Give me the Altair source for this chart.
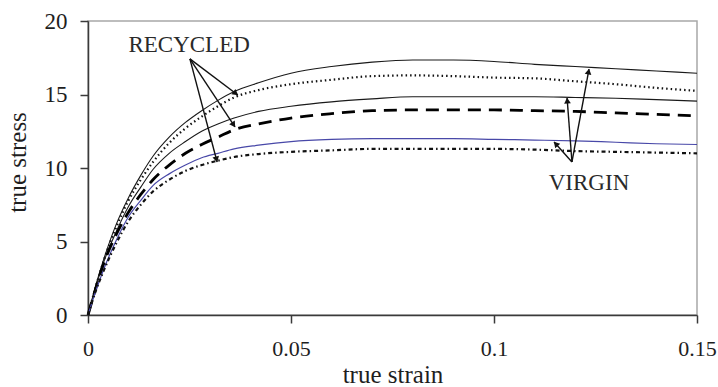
import math
import altair as alt
import pandas as pd

# ---------------- data ----------------
strain = [0, 0.002, 0.004, 0.007, 0.010, 0.013, 0.016, 0.020, 0.024, 0.028, 0.032,
          0.036, 0.042, 0.05, 0.06, 0.07, 0.08, 0.09, 0.10, 0.11, 0.12, 0.13, 0.14, 0.15]

virgin_top = [0, 2.1, 3.9, 6.2, 8.0, 9.5, 10.8, 12.1, 13.1, 13.9, 14.6, 15.2, 15.8, 16.45,
              16.9, 17.2, 17.35, 17.35, 17.25, 17.05, 16.9, 16.75, 16.6, 16.45]
recycled_top = [0, 2.0, 3.8, 6.0, 7.8, 9.2, 10.4, 11.7, 12.7, 13.5, 14.2, 14.8, 15.3, 15.7,
                16.0, 16.25, 16.3, 16.25, 16.15, 16.1, 15.9, 15.7, 15.45, 15.25]
virgin_mid = [0, 2.0, 3.7, 5.7, 7.4, 8.7, 9.9, 11.0, 11.8, 12.5, 13.0, 13.4, 13.85, 14.2,
              14.5, 14.7, 14.85, 14.85, 14.85, 14.85, 14.8, 14.75, 14.65, 14.55]
recycled_mid = [0, 1.9, 3.6, 5.5, 7.0, 8.2, 9.2, 10.2, 11.0, 11.6, 12.1, 12.6, 13.0, 13.4,
                13.7, 13.9, 13.95, 13.95, 13.95, 13.9, 13.85, 13.75, 13.65, 13.55]
virgin_low = [0, 1.7, 3.2, 5.1, 6.7, 7.8, 8.8, 9.6, 10.2, 10.7, 11.0, 11.3, 11.55, 11.8,
              11.95, 12.0, 12.0, 12.0, 11.95, 11.9, 11.85, 11.75, 11.65, 11.6]
recycled_low = [0, 1.7, 3.1, 4.9, 6.4, 7.5, 8.4, 9.2, 9.8, 10.2, 10.5, 10.75, 10.95, 11.1,
                11.2, 11.3, 11.3, 11.3, 11.3, 11.25, 11.15, 11.1, 11.05, 11.0]

series_names = ["virgin_top", "recycled_top", "virgin_mid", "recycled_mid", "virgin_low", "recycled_low"]
series_values = [virgin_top, recycled_top, virgin_mid, recycled_mid, virgin_low, recycled_low]

# annotation labels and arrows (data units)
label_text = ["RECYCLED", "VIRGIN"]
label_x = [0.0249, 0.1234]
label_y = [18.37, 8.98]

arrow_from_x = [0.0251, 0.0251, 0.0251, 0.1192, 0.1192, 0.1192]
arrow_from_y = [17.42, 17.42, 17.42, 10.41, 10.41, 10.41]
arrow_to_x = [0.0369, 0.0362, 0.0318, 0.1234, 0.1180, 0.1148]
arrow_to_y = [14.97, 12.79, 10.41, 16.73, 14.76, 11.77]

x_ticks = [0, 0.05, 0.1, 0.15]
y_ticks = [0, 5, 10, 15, 20]

# ---------------- styling ----------------
W, H = 609, 294
XMAX, YMAX = 0.15, 20
FONT = "Liberation Serif"
TXT = "#1e1e1e"

styles = {
    "virgin_top":   dict(color="#1a1a1a", strokeWidth=1.1),
    "recycled_top": dict(color="#111111", strokeWidth=2.2, strokeDash=[1.5, 3]),
    "virgin_mid":   dict(color="#1a1a1a", strokeWidth=1.1),
    "recycled_mid": dict(color="#000000", strokeWidth=2.8, strokeDash=[13, 8]),
    "virgin_low":   dict(color="#4848a8", strokeWidth=1.2),
    "recycled_low": dict(color="#111111", strokeWidth=2.2, strokeDash=[4, 3, 1.5, 3]),
}

xscale = alt.Scale(domain=[0, XMAX], nice=False, zero=False)
yscale = alt.Scale(domain=[0, YMAX], nice=False)

x_axis = alt.Axis(values=x_ticks, labelExpr="format(datum.value, '~g')",
                  title="true strain", grid=False,
                  tickSize=8, tickWidth=1.5, tickColor="#3a3a3a",
                  domainColor="#3a3a3a", domainWidth=1.5,
                  labelFont=FONT, labelFontSize=22, labelColor=TXT,
                  labelBaseline="alphabetic", labelPadding=32, labelFlush=False,
                  titleFont=FONT, titleFontSize=25, titleFontWeight="normal",
                  titleColor=TXT, titleBaseline="alphabetic", titleY=67)
y_axis = alt.Axis(values=y_ticks, title="true stress", grid=False,
                  tickSize=8, tickWidth=1.5, tickColor="#3a3a3a",
                  domainColor="#3a3a3a", domainWidth=1.5,
                  labelFont=FONT, labelFontSize=23, labelColor=TXT, labelPadding=13,
                  titleFont=FONT, titleFontSize=25, titleFontWeight="normal",
                  titleColor=TXT, titleBaseline="alphabetic", titleAngle=270,
                  titleAlign="center", titleX=-63, titleY=141)

X = alt.X("x:Q", scale=xscale, axis=x_axis)
Y = alt.Y("y:Q", scale=yscale, axis=y_axis)

layers = []
for name, vals in zip(series_names, series_values):
    df = pd.DataFrame({"x": strain, "y": vals})
    st = styles[name]
    layers.append(
        alt.Chart(df).mark_line(interpolate="monotone", **st).encode(x=X, y=Y)
    )

# arrows
px_x = W / XMAX
px_y = H / YMAX
rows = []
for fx, fy, tx, ty in zip(arrow_from_x, arrow_from_y, arrow_to_x, arrow_to_y):
    dx = (tx - fx) * px_x
    dy = (ty - fy) * px_y  # upward positive
    length = math.hypot(dx, dy)
    ux, uy = dx / length, dy / length
    ang = math.degrees(math.atan2(ux, uy)) % 360
    back = 3.5
    rows.append(dict(x=fx, y=fy, x2=tx, y2=ty,
                     hx=tx - ux * back / px_x, hy=ty - uy * back / px_y, angle=ang))
arrows = pd.DataFrame(rows)

layers.append(
    alt.Chart(arrows).mark_rule(color="#111111", strokeWidth=1.4).encode(
        x=X, y=Y, x2="x2:Q", y2="y2:Q")
)
layers.append(
    alt.Chart(arrows).mark_point(shape="triangle", filled=True, opacity=1,
                                 color="#111111", size=45).encode(
        x=alt.X("hx:Q", scale=xscale, axis=x_axis),
        y=alt.Y("hy:Q", scale=yscale, axis=y_axis),
        angle=alt.Angle("angle:Q", scale=None))
)

labels = pd.DataFrame({"x": label_x, "y": label_y, "t": label_text})
layers.append(
    alt.Chart(labels).mark_text(font=FONT, fontSize=23, color="#2a2a2a",
                                align="center", baseline="middle").encode(
        x=X, y=Y, text="t:N")
)

chart = alt.layer(*layers).properties(
    width=W, height=H,
    autosize=alt.AutoSizeParams(type="none"),
    padding={"left": 88, "top": 21, "right": 21, "bottom": 72},
    background="white",
).configure_view(stroke="#a8a8a8", strokeWidth=1.5)

chart.save("out.html", embed_options={"renderer": "svg", "actions": False})
